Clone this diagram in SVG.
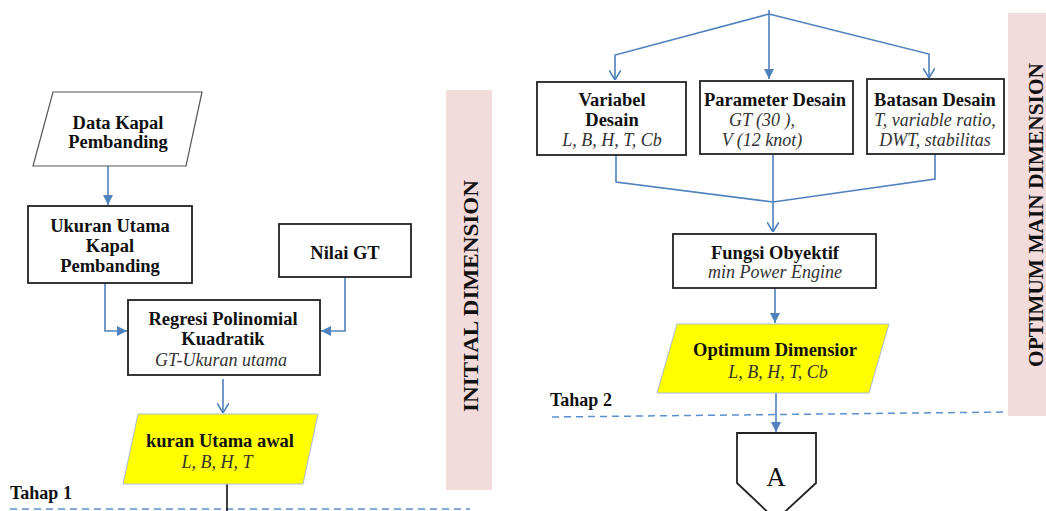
<svg xmlns="http://www.w3.org/2000/svg" width="1046" height="511" viewBox="0 0 1046 511">
<defs>
<marker id="fa" viewBox="0 0 10 10" refX="10" refY="5" markerWidth="10" markerHeight="10" markerUnits="userSpaceOnUse" orient="auto"><path d="M0,0 L10,5 L0,10 Z" fill="#4f81bd"/></marker>
<marker id="oa" viewBox="0 0 10 12" refX="10" refY="6" markerWidth="10" markerHeight="12" markerUnits="userSpaceOnUse" orient="auto"><path d="M0,0 L10,6 L0,12" fill="none" stroke="#4f81bd" stroke-width="1.6"/></marker>
</defs>
<style>
.box{fill:#fff;stroke:#222;stroke-width:1.8}
.yel{fill:#ffff00;stroke:#a8bcd6;stroke-width:1}
.pink{fill:#f2dcdb}
.c{fill:none;stroke:#4f81bd;stroke-width:1.6}
.d{fill:none;stroke:#5b8fd0;stroke-width:1.5;stroke-dasharray:7,5}
.b{font-family:"Liberation Serif",serif;font-weight:bold;font-size:18.5px;fill:#111;text-anchor:middle}
.i{font-family:"Liberation Serif",serif;font-style:italic;font-size:18px;fill:#333;text-anchor:middle}
.side{font-family:"Liberation Serif",serif;font-weight:bold;font-size:20px;fill:#111;text-anchor:middle}
.lbl{font-family:"Liberation Serif",serif;font-weight:bold;font-size:18px;fill:#111}
</style>
<g id="bands">
<rect class="pink" x="446" y="90" width="46" height="400"/>
<text class="side" transform="translate(478,296) rotate(-90)" textLength="232" lengthAdjust="spacingAndGlyphs">INITIAL DIMENSION</text>
<rect class="pink" x="1008" y="13" width="40" height="403"/>
<text class="side" transform="translate(1043,215) rotate(-90)" textLength="304" lengthAdjust="spacingAndGlyphs">OPTIMUM MAIN DIMENSION</text>
</g>
<g id="stages">
<text class="lbl" x="10" y="499">Tahap 1</text>
<line class="d" x1="10" y1="509" x2="470" y2="509"/>
<text class="lbl" x="550" y="406">Tahap 2</text>
<line class="d" x1="552" y1="417" x2="1008" y2="412"/>
</g>
<g id="connectors">
<line class="c" x1="108" y1="166" x2="108" y2="205" marker-end="url(#fa)"/>
<polyline class="c" points="105,283 105,331 127,331" marker-end="url(#fa)"/>
<polyline class="c" points="345,277 345,331 321,331" marker-end="url(#fa)"/>
<line class="c" x1="223" y1="379" x2="223" y2="413" marker-end="url(#oa)"/>
<line x1="227" y1="484" x2="227" y2="511" stroke="#111" stroke-width="1.6"/>
<line class="c" x1="769" y1="10" x2="769" y2="79" marker-end="url(#fa)"/>
<polyline class="c" points="769,14 615,55 615,80" marker-end="url(#oa)"/>
<polyline class="c" points="769,14 929,54 929,78" marker-end="url(#oa)"/>
<polyline class="c" points="616,155 616,182 773,202 935,179 935,153"/>
<line class="c" x1="773" y1="155" x2="773" y2="232" marker-end="url(#oa)"/>
<line class="c" x1="775" y1="288" x2="775" y2="323" marker-end="url(#fa)"/>
<line class="c" x1="776" y1="393" x2="776" y2="432" marker-end="url(#fa)"/>
</g>
<g id="data-kapal">
<polygon class="box" points="53,92 202,92 186,166 33,166" style="stroke-width:1.2;stroke:#555"/>
<text class="b" x="118" y="129">Data Kapal</text>
<text class="b" x="118" y="148">Pembanding</text>
</g>
<g id="ukuran-utama">
<rect class="box" x="28" y="206" width="164" height="77"/>
<text class="b" x="110" y="232">Ukuran Utama</text>
<text class="b" x="110" y="252">Kapal</text>
<text class="b" x="110" y="272">Pembanding</text>
</g>
<g id="nilai-gt">
<rect class="box" x="279" y="224" width="132" height="53"/>
<text class="b" x="345" y="259">Nilai GT</text>
</g>
<g id="regresi">
<rect class="box" x="128" y="300" width="192" height="75"/>
<text class="b" x="223" y="325">Regresi Polinomial</text>
<text class="b" x="223" y="345">Kuadratik</text>
<text class="i" x="221" y="366">GT-Ukuran utama</text>
</g>
<g id="ukuran-awal">
<polygon class="yel" points="138,414 318,414 303,484 123,484"/>
<text class="b" x="220" y="447">kuran Utama awal</text>
<text class="i" x="217" y="468">L, B, H, T</text>
</g>
<g id="variabel">
<rect class="box" x="537" y="82" width="149" height="73"/>
<text class="b" x="612" y="106">Variabel</text>
<text class="b" x="612" y="126">Desain</text>
<text class="i" x="612" y="146">L, B, H, T, Cb</text>
</g>
<g id="parameter">
<rect class="box" x="700" y="81" width="153" height="73"/>
<text class="b" x="775" y="106">Parameter Desain</text>
<text class="i" x="762" y="126">GT (30 ),</text>
<text class="i" x="762" y="146">V (12 knot)</text>
</g>
<g id="batasan">
<rect class="box" x="867" y="79" width="137" height="75"/>
<text class="b" x="935" y="106">Batasan Desain</text>
<text class="i" x="935" y="126">T, variable ratio,</text>
<text class="i" x="935" y="146">DWT, stabilitas</text>
</g>
<g id="fungsi">
<rect class="box" x="673" y="234" width="203" height="54"/>
<text class="b" x="775" y="259">Fungsi Obyektif</text>
<text class="i" x="775" y="278">min Power Engine</text>
</g>
<g id="optimum">
<polygon class="yel" points="677,324 889,324 869,393 657,393"/>
<text class="b" x="775" y="356">Optimum Dimensior</text>
<text class="i" x="778" y="378">L, B, H, T, Cb</text>
</g>
<g id="connector-a">
<polygon class="box" points="737,433 816,433 816,483 776,520 737,483"/>
<text x="776" y="486" font-family="Liberation Serif, serif" font-size="27" text-anchor="middle" fill="#111">A</text>
</g>
</svg>
